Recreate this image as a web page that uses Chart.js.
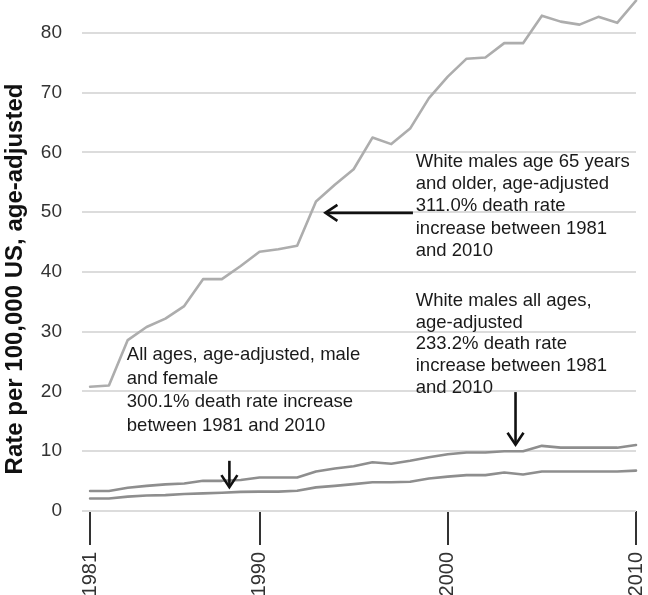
<!DOCTYPE html>
<html>
<head>
<meta charset="utf-8">
<script src="https://cdn.jsdelivr.net/npm/chart.js@4"></script>
<style>
  html, body { margin: 0; padding: 0; background: #fff; overflow: hidden; }
  #wrap { width: 648px; height: 595px; overflow: hidden; }
</style>
</head>
<body>
<div id="wrap"><canvas id="chart" width="648" height="600"></canvas></div>
<script>
const years = [];
for (let y = 1981; y <= 2010; y++) years.push(y);

// White males age 65 years and older
const whiteMales65 = [20.8, 21.0, 28.6, 30.8, 32.2, 34.3, 38.8, 38.8, 41.0, 43.4,
  43.8, 44.4, 51.8, 54.6, 57.2, 62.5, 61.4, 64.0, 69.1, 72.7,
  75.7, 75.9, 78.3, 78.3, 82.9, 81.9, 81.4, 82.7, 81.7, 85.4];
// White males all ages
const whiteMalesAll = [3.35, 3.35, 3.9, 4.2, 4.45, 4.6, 5.05, 5.05, 5.2, 5.6,
  5.6, 5.6, 6.6, 7.1, 7.5, 8.15, 7.9, 8.4, 9.0, 9.5,
  9.8, 9.8, 10.0, 10.0, 10.9, 10.6, 10.6, 10.6, 10.6, 11.05];
// All ages, male and female
const allAges = [2.1, 2.1, 2.4, 2.6, 2.65, 2.85, 2.95, 3.05, 3.2, 3.25,
  3.25, 3.4, 3.95, 4.2, 4.5, 4.8, 4.8, 4.9, 5.45, 5.75,
  6.0, 6.0, 6.45, 6.1, 6.6, 6.6, 6.6, 6.6, 6.6, 6.75];

const xTicks = [1981, 1990, 2000, 2010];
const yTicks = [0, 10, 20, 30, 40, 50, 60, 70, 80];
const yTitle = 'Rate per 100,000 US, age-adjusted';

// annotation texts, anchored in data units
const notes = [
  { x: 1998.3, y: 57.6, lh: 22.3, lines: ['White males age 65 years', 'and older, age-adjusted', '311.0% death rate', 'increase between 1981', 'and 2010'] },
  { x: 1998.3, y: 34.3, lh: 21.7, lines: ['White males all ages,', 'age-adjusted', '233.2% death rate', 'increase between 1981', 'and 2010'] },
  { x: 1982.95, y: 25.3, lh: 23.7, lines: ['All ages, age-adjusted, male', 'and female', '300.1% death rate increase', 'between 1981 and 2010'] }
];
const arrows = [
  { x1: 1998.15, y1: 49.9, x2: 1993.5, y2: 49.9 },
  { x1: 2003.6, y1: 19.9, x2: 2003.6, y2: 11.1 },
  { x1: 1988.4, y1: 8.4, x2: 1988.4, y2: 4.0 }
];

const FONT = '"Liberation Sans", Arial, sans-serif';

function toPoints(vals) {
  return vals.map((v, i) => ({ x: years[i], y: v }));
}

const annotationPlugin = {
  id: 'notes',
  afterDatasetsDraw(chart) {
    const c = chart.ctx, xs = chart.scales.x, ys = chart.scales.y;
    c.save();
    c.fillStyle = '#1a1a1a';
    c.font = '18.5px ' + FONT;
    c.textBaseline = 'alphabetic';
    c.textAlign = 'left';
    notes.forEach(n => {
      const px = xs.getPixelForValue(n.x), py = ys.getPixelForValue(n.y);
      n.lines.forEach((t, i) => c.fillText(t, px, py + i * n.lh));
    });
    c.strokeStyle = '#111';
    c.lineWidth = 2.6;
    c.lineCap = 'butt';
    arrows.forEach(a => {
      const x1 = xs.getPixelForValue(a.x1), y1 = ys.getPixelForValue(a.y1);
      const x2 = xs.getPixelForValue(a.x2), y2 = ys.getPixelForValue(a.y2);
      const ang = Math.atan2(y2 - y1, x2 - x1);
      c.beginPath();
      c.moveTo(x1, y1);
      c.lineTo(x2 - Math.cos(ang) * 1.5, y2 - Math.sin(ang) * 1.5);
      c.stroke();
      const len = 12, wid = 8;
      c.beginPath();
      c.moveTo(x2 - Math.cos(ang) * len - Math.sin(ang) * wid, y2 - Math.sin(ang) * len + Math.cos(ang) * wid);
      c.lineTo(x2, y2);
      c.lineTo(x2 - Math.cos(ang) * len + Math.sin(ang) * wid, y2 - Math.sin(ang) * len - Math.cos(ang) * wid);
      c.lineJoin = 'miter';
      c.stroke();
    });
    // y axis title
    c.font = 'bold 24px ' + FONT;
    c.fillStyle = '#111';
    c.textAlign = 'center';
    c.textBaseline = 'middle';
    c.translate(15, 279);
    c.rotate(-Math.PI / 2);
    c.fillText(yTitle, 0, 0);
    c.restore();
  }
};

const ctx = document.getElementById('chart').getContext('2d');
new Chart(ctx, {
  type: 'line',
  data: {
    datasets: [
      { label: 'White males 65+', data: toPoints(whiteMales65), borderColor: '#adadad', borderWidth: 2.6 },
      { label: 'White males all ages', data: toPoints(whiteMalesAll), borderColor: '#8e8e8e', borderWidth: 2.6 },
      { label: 'All ages', data: toPoints(allAges), borderColor: '#8e8e8e', borderWidth: 2.6 }
    ]
  },
  options: {
    responsive: false,
    animation: false,
    layout: { padding: { left: 41, right: 12, top: 0, bottom: 0 } },
    elements: {
      point: { radius: 0 },
      line: { tension: 0, borderJoinStyle: 'round', borderCapStyle: 'round' }
    },
    datasets: { line: { clip: false } },
    plugins: { legend: { display: false }, tooltip: { enabled: false } },
    scales: {
      x: {
        type: 'linear',
        min: 1980.57,
        max: 2010,
        afterBuildTicks(axis) { axis.ticks = xTicks.map(v => ({ value: v })); },
        afterFit(axis) { axis.height = 89; axis.paddingLeft = 0; axis.paddingRight = 0; },
        border: { display: false },
        grid: { drawOnChartArea: false, drawTicks: true, tickLength: 34, color: '#333', lineWidth: 2 },
        ticks: {
          minRotation: 90, maxRotation: 90, padding: 7, autoSkip: false,
          color: '#333', font: { family: FONT, size: 20 },
          callback: v => String(v)
        }
      },
      y: {
        min: 0,
        max: 85.52,
        afterBuildTicks(axis) { axis.ticks = yTicks.map(v => ({ value: v })); },
        afterFit(axis) { axis.width = 41; axis.paddingTop = 0; axis.paddingBottom = 0; },
        border: { display: false },
        grid: { display: true, drawOnChartArea: true, color: '#dcdcdc', lineWidth: 2, drawTicks: false },
        ticks: { padding: 20, color: '#333', font: { family: FONT, size: 19 } }
      }
    }
  },
  plugins: [annotationPlugin]
});
</script>
</body>
</html>
